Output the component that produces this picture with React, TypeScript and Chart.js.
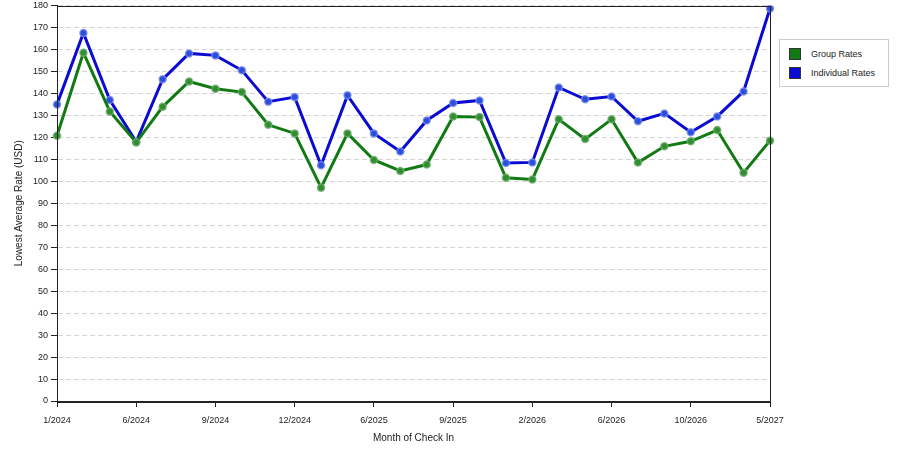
import React, { useEffect, useRef } from 'react';
import { Chart, registerables } from 'chart.js';

Chart.register(...registerables);

const months = [
  '1/2024', '3/2024', '4/2024', '6/2024', '7/2024', '8/2024', '9/2024',
  '10/2024', '11/2024', '12/2024', '2/2025', '4/2025', '6/2025', '7/2025',
  '8/2025', '9/2025', '10/2025', '12/2025', '2/2026', '3/2026', '5/2026',
  '6/2026', '7/2026', '8/2026', '10/2026', '12/2026', '2/2027', '5/2027',
];

const groupRates = [
  120.7, 158.5, 131.8, 117.7, 133.9, 145.4, 142.1, 140.6, 125.7, 121.8,
  97.1, 121.8, 109.7, 104.7, 107.6, 129.5, 129.2, 101.6, 100.8, 128.2,
  119.2, 128.2, 108.5, 115.9, 118.2, 123.3, 103.9, 118.5,
];

const individualRates = [
  135.0, 167.5, 137.0, 118.0, 146.4, 158.2, 157.3, 150.5, 136.2, 138.3,
  107.3, 139.1, 121.8, 113.6, 127.7, 135.6, 136.8, 108.3, 108.6, 142.7,
  137.3, 138.6, 127.3, 130.9, 122.3, 129.5, 140.9, 178.6,
];

const GREEN = '#127a12';
const BLUE = '#0b0bd2';
const FONT = '"Liberation Sans", Arial, sans-serif';

// draws the frame around the plot area
const frame = {
  id: 'frame',
  afterDraw(chart: Chart) {
    const { ctx, chartArea } = chart;
    ctx.save();
    ctx.strokeStyle = '#222';
    ctx.lineWidth = 1;
    ctx.strokeRect(
      Math.round(chartArea.left) + 0.5,
      Math.round(chartArea.top) + 0.5,
      Math.round(chartArea.right - chartArea.left),
      Math.round(chartArea.bottom - chartArea.top)
    );
    ctx.restore();
  },
};

const App: React.FC = () => {
  const chartRef = useRef<HTMLCanvasElement | null>(null);
  const chartInstance = useRef<Chart | null>(null);

  useEffect(() => {
    if (!chartRef.current) return;
    if (chartInstance.current) chartInstance.current.destroy();
    const ctx = chartRef.current.getContext('2d');
    if (!ctx) return;

    chartInstance.current = new Chart(ctx, {
      type: 'line',
      data: {
        labels: months,
        datasets: [
          {
            label: 'Group Rates',
            data: groupRates,
            borderColor: GREEN,
            backgroundColor: '#2f8f2f',
            pointBorderColor: 'rgba(110,170,110,0.8)',
            pointBorderWidth: 1.5,
            pointRadius: 3.5,
            borderWidth: 3,
            tension: 0,
          },
          {
            label: 'Individual Rates',
            data: individualRates,
            borderColor: BLUE,
            backgroundColor: '#2a4ee0',
            pointBorderColor: 'rgba(120,140,230,0.8)',
            pointBorderWidth: 1.5,
            pointRadius: 3.5,
            borderWidth: 3,
            tension: 0,
          },
        ],
      },
      options: {
        animation: false,
        responsive: true,
        maintainAspectRatio: false,
        layout: { padding: { top: 5, right: 130, left: 0, bottom: 0 } },
        plugins: {
          legend: { display: false },
          tooltip: { enabled: false },
        },
        scales: {
          x: {
            offset: false,
            afterFit: (s: any) => { s.height = 49; },
            grid: {
              drawOnChartArea: false,
              tickLength: 6,
              tickColor: (c: any) => (c.index % 3 === 0 ? '#222' : 'rgba(0,0,0,0)'),
            },
            border: { color: '#222' },
            ticks: {
              autoSkip: false,
              maxRotation: 0,
              padding: 8,
              color: '#222',
              font: { family: FONT, size: 9 },
              callback: (_v: any, i: number) => (i % 3 === 0 ? months[i] : ''),
            },
            title: {
              display: true,
              text: 'Month of Check In',
              color: '#222',
              font: { family: FONT, size: 10 },
              padding: { top: 2, bottom: 6 },
            },
          },
          y: {
            min: 0,
            max: 180,
            afterFit: (s: any) => {
              s.width = 57;
              s.paddingTop = 0;
              s.paddingBottom = 0;
            },
            grid: {
              color: '#d4d4d4',
              tickColor: '#222',
              tickLength: 6,
            },
            border: { color: '#222', dash: [5, 3] },
            ticks: {
              stepSize: 10,
              color: '#222',
              padding: 3,
              font: { family: FONT, size: 9 },
            },
            title: {
              display: true,
              text: 'Lowest Average Rate (USD)',
              color: '#222',
              font: { family: FONT, size: 10 },
              padding: { top: 13, bottom: 4 },
            },
          },
        },
      },
      plugins: [frame],
    });

    return () => {
      if (chartInstance.current) {
        chartInstance.current.destroy();
        chartInstance.current = null;
      }
    };
  }, []);

  const item = (color: string, text: string, top: number) => (
    <div style={{ position: 'absolute', left: 9, top, display: 'flex', alignItems: 'center' }}>
      <span style={{ display: 'inline-block', width: 12, height: 12, background: color, border: '1px solid #333', boxSizing: 'border-box' }} />
      <span style={{ marginLeft: 10, fontSize: 9, color: '#222' }}>{text}</span>
    </div>
  );

  return (
    <div style={{ position: 'fixed', left: 0, top: 0, width: 900, height: 450, background: '#fff', fontFamily: FONT }}>
      <canvas ref={chartRef}></canvas>
      <div
        style={{
          position: 'absolute',
          left: 779,
          top: 39,
          width: 110,
          height: 48,
          border: '1px solid #ccc',
          boxSizing: 'border-box',
          background: '#fff',
        }}
      >
        {item(GREEN, 'Group Rates', 8)}
        {item(BLUE, 'Individual Rates', 27)}
      </div>
    </div>
  );
};

export default App;
